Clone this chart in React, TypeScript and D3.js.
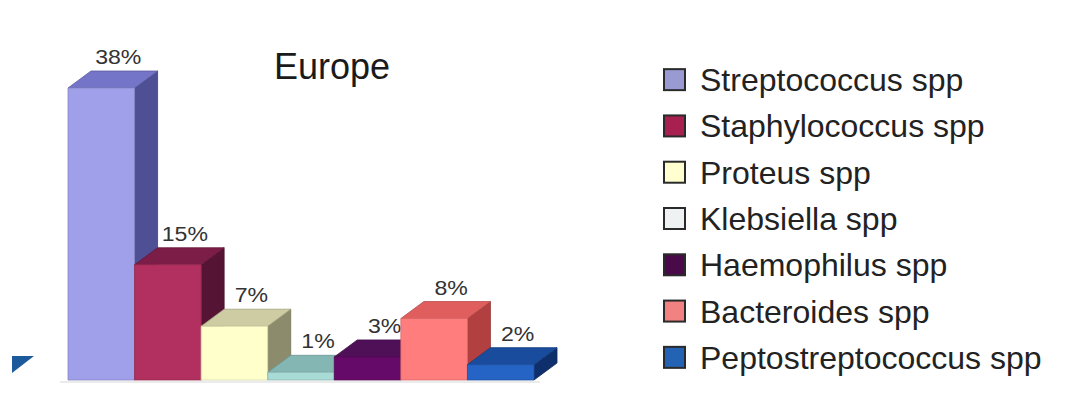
import React from "react";
import * as d3 from "d3";

const categories = [
  "Streptococcus spp",
  "Staphylococcus spp",
  "Proteus spp",
  "Klebsiella spp",
  "Haemophilus spp",
  "Bacteroides spp",
  "Peptostreptococcus spp",
];
const values = [38, 15, 7, 1, 3, 8, 2];
const frontColors = ["#a0a0ea", "#b2305f", "#ffffcc", "#a8dad6", "#650a68", "#ff7d7d", "#2563c4"];
const topColors = ["#7474c8", "#7c1d47", "#cdcca2", "#84b6b4", "#501058", "#e05e5e", "#1a4c9e"];
const sideColors = ["#4f4f96", "#561434", "#8c8c6c", "#6a9898", "#3a0842", "#b24040", "#0f2f6c"];
const legendColors = ["#9a9ad2", "#a82050", "#ffffd0", "#eef2f2", "#4a0a4a", "#f28282", "#2462b4"];
const title = "Europe";

const W = 1086;
const H = 394;
const DX = 23;
const DY = -17;

export default function App() {
  const x = d3.scaleBand<string>().domain(categories).range([68, 534]).padding(0);
  const y = d3.scaleLinear().domain([0, 38]).range([380, 88]);
  const bw = x.bandwidth();
  const legendY = d3.scaleBand<string>().domain(categories).range([57, 381]);
  const font = "'Liberation Sans', Arial, sans-serif";

  return (
    <svg width={W} height={H} style={{ position: "absolute", left: 0, top: 0, background: "#fff" }}>
      <rect x={0} y={0} width={W} height={H} fill="#fff" />
      {/* fragment of neighbouring chart at left edge */}
      <path d="M12,356 L34,356 L12,373 Z" fill="#1c5a9c" />
      <line x1={60} x2={540} y1={y(0) + 2} y2={y(0) + 2} stroke="#e4e4e4" strokeWidth={1.5} />
      {categories.map((c, i) => {
        const x0 = x(c)!;
        const x1 = x0 + bw;
        const yt = y(values[i]);
        const yb = y(0);
        const front = `M${x0},${yb} L${x1},${yb} L${x1},${yt} L${x0},${yt} Z`;
        const top = `M${x0},${yt} L${x0 + DX},${yt + DY} L${x1 + DX},${yt + DY} L${x1},${yt} Z`;
        const side = `M${x1},${yt} L${x1 + DX},${yt + DY} L${x1 + DX},${yb + DY} L${x1},${yb} Z`;
        const lx = x0 + bw / 2 + 17;
        const ly = yt + DY - 7;
        return (
          <g key={c}>
            <path d={side} fill={sideColors[i]} stroke={d3.color(sideColors[i])!.darker(0.6).toString()} strokeWidth={0.8} />
            <path d={top} fill={topColors[i]} stroke={d3.color(topColors[i])!.darker(0.6).toString()} strokeWidth={0.8} />
            <path d={front} fill={frontColors[i]} stroke={d3.color(frontColors[i])!.darker(0.5).toString()} strokeWidth={0.8} />
            <text
              transform={`translate(${lx},${ly}) scale(1.1,1)`}
              textAnchor="middle"
              fontFamily={font}
              fontSize={21}
              fill="#333"
            >
              {values[i]}%
            </text>
          </g>
        );
      })}
      <text x={332} y={79} textAnchor="middle" fontFamily={font} fontSize={36} fill="#1a1a1a">
        {title}
      </text>
      {categories.map((c, i) => {
        const cy = legendY(c)! + legendY.bandwidth() / 2;
        return (
          <g key={"lg" + c}>
            <rect x={664} y={cy - 11} width={21} height={21} fill={legendColors[i]} stroke="#2a2a2a" strokeWidth={2} />
            <text x={700} y={cy + 11} fontFamily={font} fontSize={32} fill="#222">
              {c}
            </text>
          </g>
        );
      })}
    </svg>
  );
}
